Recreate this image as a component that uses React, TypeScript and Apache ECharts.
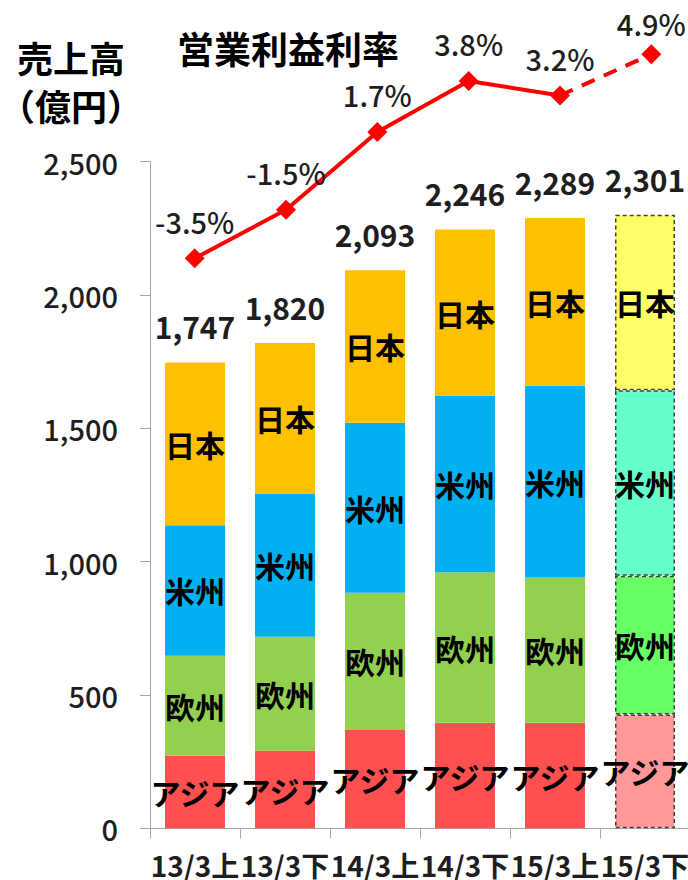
import React, { useEffect, useRef } from "react";
import * as echarts from "echarts";

const categories = ["13/3上", "13/3下", "14/3上", "14/3下", "15/3上", "15/3下"];
const asia = [272, 291, 369, 396, 396, 427];
const europe = [375, 427, 514, 564, 545, 520];
const americas = [490, 538, 638, 662, 719, 696];
const japan = [610, 564, 572, 624, 629, 658];
const totals = [1747, 1820, 2093, 2246, 2289, 2301];
const margin = [-3.5, -1.5, 1.7, 3.8, 3.2, 4.9];
const yTicks = [0, 500, 1000, 1500, 2000, 2500];

const FONT = "'Noto Sans CJK JP', 'Noto Sans', sans-serif";
const TEXT = "#1E1E1E";

const regions = [
  { name: "アジア", data: asia, color: "#FF5050", light: "#FF9999" },
  { name: "欧州", data: europe, color: "#92D050", light: "#66FF66" },
  { name: "米州", data: americas, color: "#00B0F0", light: "#66FFCC" },
  { name: "日本", data: japan, color: "#FFC000", light: "#FFFF66" },
];

export default function App() {
  const ref = useRef<HTMLDivElement>(null);
  useEffect(() => {
    document.body.style.margin = "0";
    const chart = echarts.init(ref.current!, null, { renderer: "svg" });
    const last = categories.length - 1;
    const barSeries = regions.map((r) => ({
      type: "bar",
      name: r.name,
      stack: "sales",
      xAxisIndex: 0,
      yAxisIndex: 0,
      barWidth: 60,
      data: r.data.map((v, i) =>
        i === last
          ? {
              value: v,
              itemStyle: {
                color: r.light,
                borderColor: "#404040",
                borderWidth: 1.5,
                borderType: [4, 3],
              },
            }
          : v
      ),
      itemStyle: { color: r.color },
      label: {
        show: true,
        position: "inside",
        formatter: r.name,
        fontFamily: FONT,
        fontSize: 30,
        fontWeight: "bold",
        color: "#000",
      },
    }));

    const solid = margin.map((v, i) => (i < last ? v : null));
    const dashed = margin.map((v, i) =>
      i === last - 1
        ? { value: v, symbol: "none", label: { show: false } }
        : i === last
        ? { value: v, label: { distance: 7 } }
        : null
    );
    const lineLabel = {
      show: true,
      position: "top",
      distance: 13,
      formatter: (p: any) => `${p.value}%`,
      fontFamily: FONT,
      fontSize: 29,
      fontWeight: 500,
      color: TEXT,
      opacity: 1,
    };

    chart.setOption({
      animation: false,
      grid: [
        { left: 150, width: 540, top: 161.7, bottom: 51.7, outerBoundsMode: "none", containLabel: false },
        { left: 149, width: 548, top: 51.8, bottom: 609.5, outerBoundsMode: "none", containLabel: false },
      ],
      xAxis: [
        {
          type: "category",
          gridIndex: 0,
          data: categories,
          axisLine: { lineStyle: { color: "#A6A6A6", width: 1 } },
          axisTick: { show: true, length: 10, lineStyle: { color: "#A6A6A6" } },
          axisLabel: {
            margin: 25,
            fontFamily: FONT,
            fontSize: 28,
            lineHeight: 24,
            fontWeight: "bold",
            color: TEXT,
            interval: 0,
          },
        },
        {
          type: "category",
          gridIndex: 1,
          data: categories,
          show: false,
        },
      ],
      yAxis: [
        {
          type: "value",
          gridIndex: 0,
          min: yTicks[0],
          max: yTicks[yTicks.length - 1],
          interval: yTicks[1] - yTicks[0],
          splitLine: { show: false },
          axisLine: { show: true, lineStyle: { color: "#A6A6A6", width: 1 } },
          axisTick: { show: true, length: 10, lineStyle: { color: "#A6A6A6" } },
          axisLabel: {
            margin: 32,
            fontFamily: FONT,
            fontSize: 29,
            fontWeight: 500,
            color: TEXT,
            formatter: (v: number) => v.toLocaleString("en-US"),
          },
        },
        {
          type: "value",
          gridIndex: 1,
          min: -4,
          max: 5,
          show: false,
          splitLine: { show: false },
        },
      ],
      graphic: [
        {
          type: "text",
          x: 17,
          y: 57,
          style: {
            text: "売上高",
            fontFamily: FONT,
            fontSize: 36,
            lineHeight: 36,
            fontWeight: "bold",
            fill: "#000",
            align: "left",
            verticalAlign: "middle",
          },
        },
        {
          type: "text",
          x: 71,
          y: 105,
          style: {
            text: "（億円）",
            fontFamily: FONT,
            fontSize: 36,
            lineHeight: 36,
            fontWeight: "bold",
            fill: "#000",
            align: "center",
            verticalAlign: "middle",
          },
        },
        {
          type: "text",
          x: 177,
          y: 47.5,
          style: {
            text: "営業利益利率",
            fontFamily: FONT,
            fontSize: 37,
            fontWeight: "bold",
            fill: "#000",
            align: "left",
            verticalAlign: "middle",
          },
        },
      ],
      series: [
        ...barSeries,
        {
          type: "scatter",
          name: "合計",
          xAxisIndex: 0,
          yAxisIndex: 0,
          data: totals,
          symbolSize: 2,
          itemStyle: { color: "rgba(0,0,0,0)", opacity: 1 },
          label: {
            show: true,
            position: "top",
            distance: 20,
            formatter: (p: any) => Number(p.value).toLocaleString("en-US"),
            fontFamily: FONT,
            fontSize: 30,
            fontWeight: "bold",
            color: TEXT,
            opacity: 1,
          },
        },
        {
          type: "line",
          name: "営業利益率",
          xAxisIndex: 1,
          yAxisIndex: 1,
          data: dashed,
          connectNulls: false,
          symbol: "diamond",
          symbolSize: 20,
          lineStyle: { color: "#FF0000", width: 4, type: [14, 10] },
          itemStyle: { color: "#FF0000" },
          label: lineLabel,
        },
        {
          type: "line",
          name: "営業利益率",
          xAxisIndex: 1,
          yAxisIndex: 1,
          data: solid,
          symbol: "diamond",
          symbolSize: 20,
          lineStyle: { color: "#FF0000", width: 4 },
          itemStyle: { color: "#FF0000" },
          label: lineLabel,
        },
      ],
    });
    return () => chart.dispose();
  }, []);
  return <div ref={ref} style={{ width: 688, height: 880 }} />;
}
